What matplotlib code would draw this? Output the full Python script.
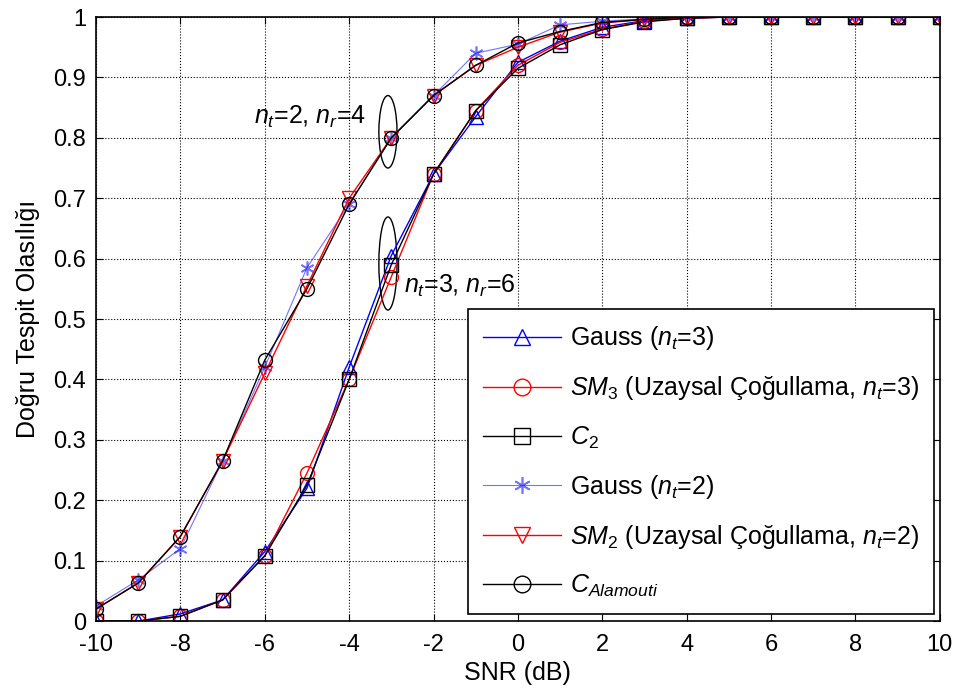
import numpy as np
import matplotlib.pyplot as plt
from matplotlib.patches import Ellipse

plt.rcParams['font.family'] = ['Liberation Sans', 'DejaVu Sans']
plt.rcParams['mathtext.fontset'] = 'custom'
plt.rcParams['mathtext.rm'] = 'Liberation Sans'
plt.rcParams['mathtext.it'] = 'Liberation Sans:italic'
plt.rcParams['axes.unicode_minus'] = False

snr = [-10, -9, -8, -7, -6, -5, -4, -3, -2, -1, 0, 1, 2, 3, 4, 5, 6, 7, 8, 9, 10]

# nt=3, nr=6
gauss3 = [0.0, 0.0, 0.012, 0.035, 0.115, 0.22, 0.42, 0.605, 0.74, 0.835, 0.925, 0.96, 0.983, 0.994, 0.998, 1, 1, 1, 1, 1, 1]
sm3 = [0.0, 0.0, 0.008, 0.035, 0.108, 0.245, 0.40, 0.57, 0.74, 0.845, 0.92, 0.958, 0.98, 0.993, 0.998, 1, 1, 1, 1, 1, 1]
c2 = [0.0, 0.0, 0.008, 0.035, 0.108, 0.225, 0.40, 0.59, 0.74, 0.845, 0.915, 0.954, 0.979, 0.992, 0.998, 1, 1, 1, 1, 1, 1]

# nt=2, nr=4
gauss2 = [0.025, 0.068, 0.12, 0.265, 0.42, 0.585, 0.69, 0.80, 0.87, 0.94, 0.955, 0.987, 0.993, 0.997, 1, 1, 1, 1, 1, 1, 1]
sm2 = [0.02, 0.063, 0.14, 0.265, 0.41, 0.555, 0.70, 0.80, 0.87, 0.92, 0.95, 0.975, 0.99, 0.996, 1, 1, 1, 1, 1, 1, 1]
calam = [0.02, 0.063, 0.14, 0.265, 0.432, 0.55, 0.69, 0.80, 0.87, 0.92, 0.957, 0.976, 0.991, 0.996, 1, 1, 1, 1, 1, 1, 1]

fig = plt.figure(figsize=(9.57, 6.94), dpi=100)
ax = fig.add_axes([0.1003, 0.105, 0.8817, 0.8705])

ms = 10
ax.plot(snr, gauss3, '-^', color='blue', mfc='none', ms=ms, lw=1,
        label=r'Gauss ($n_t$=3)')
ax.plot(snr, sm3, '-o', color='red', mfc='none', ms=ms, lw=1,
        label=r'$SM_3$ (Uzaysal Çoğullama, $n_t$=3)')
ax.plot(snr, c2, '-s', color='black', mfc='none', ms=ms, lw=1,
        label=r'$C_2$')
ax.plot(snr, gauss2, '-', marker=(6, 2, 0), color='blue', ms=ms, lw=0.8,
        alpha=0.55, mew=1.2, label=r'Gauss ($n_t$=2)')
ax.plot(snr, sm2, '-v', color='red', mfc='none', ms=ms, lw=1,
        label=r'$SM_2$ (Uzaysal Çoğullama, $n_t$=2)')
ax.plot(snr, calam, '-o', color='black', mfc='none', ms=ms, lw=1,
        label=r'$C_{Alamouti}$')

ax.add_patch(Ellipse((-3.08, 0.81), 0.43, 0.12, fill=False, ec='black', lw=1))
ax.add_patch(Ellipse((-3.08, 0.592), 0.43, 0.154, fill=False, ec='black', lw=1))
ax.text(-6.25, 0.835, r'$n_t$=2, $n_r$=4', fontsize=18, va='center', ha='left')
ax.text(-2.7, 0.555, r'$n_t$=3, $n_r$=6', fontsize=18, va='center', ha='left')

ax.set_xlim(-10, 10)
ax.set_ylim(0, 1)
ax.set_xticks(np.arange(-10, 11, 2))
ax.set_yticks(np.arange(0, 1.01, 0.1))
ax.set_yticklabels(['0', '0.1', '0.2', '0.3', '0.4', '0.5', '0.6', '0.7', '0.8', '0.9', '1'])
ax.tick_params(direction='in', labelsize=17, top=True, right=True, length=5)
ax.tick_params(axis='x', pad=9)
ax.tick_params(axis='y', pad=7)
ax.grid(True, linestyle=':', color='black', lw=0.8)
for s in ax.spines.values():
    s.set_linewidth(1.2)

ax.set_xlabel('SNR (dB)', fontsize=18, labelpad=4)
ax.set_ylabel('Doğru Tespit Olasılığı', fontsize=18, labelpad=10)

leg = ax.legend(loc='lower right', bbox_to_anchor=(0.993, 0.012), borderaxespad=0,
                fontsize=18, handlelength=3.1, handletextpad=0.35, labelspacing=0.88,
                fancybox=False, framealpha=1, edgecolor='black', markerscale=1.2,
                borderpad=0.6)
leg.get_frame().set_linewidth(1.2)

plt.savefig('out.png', dpi=100)
